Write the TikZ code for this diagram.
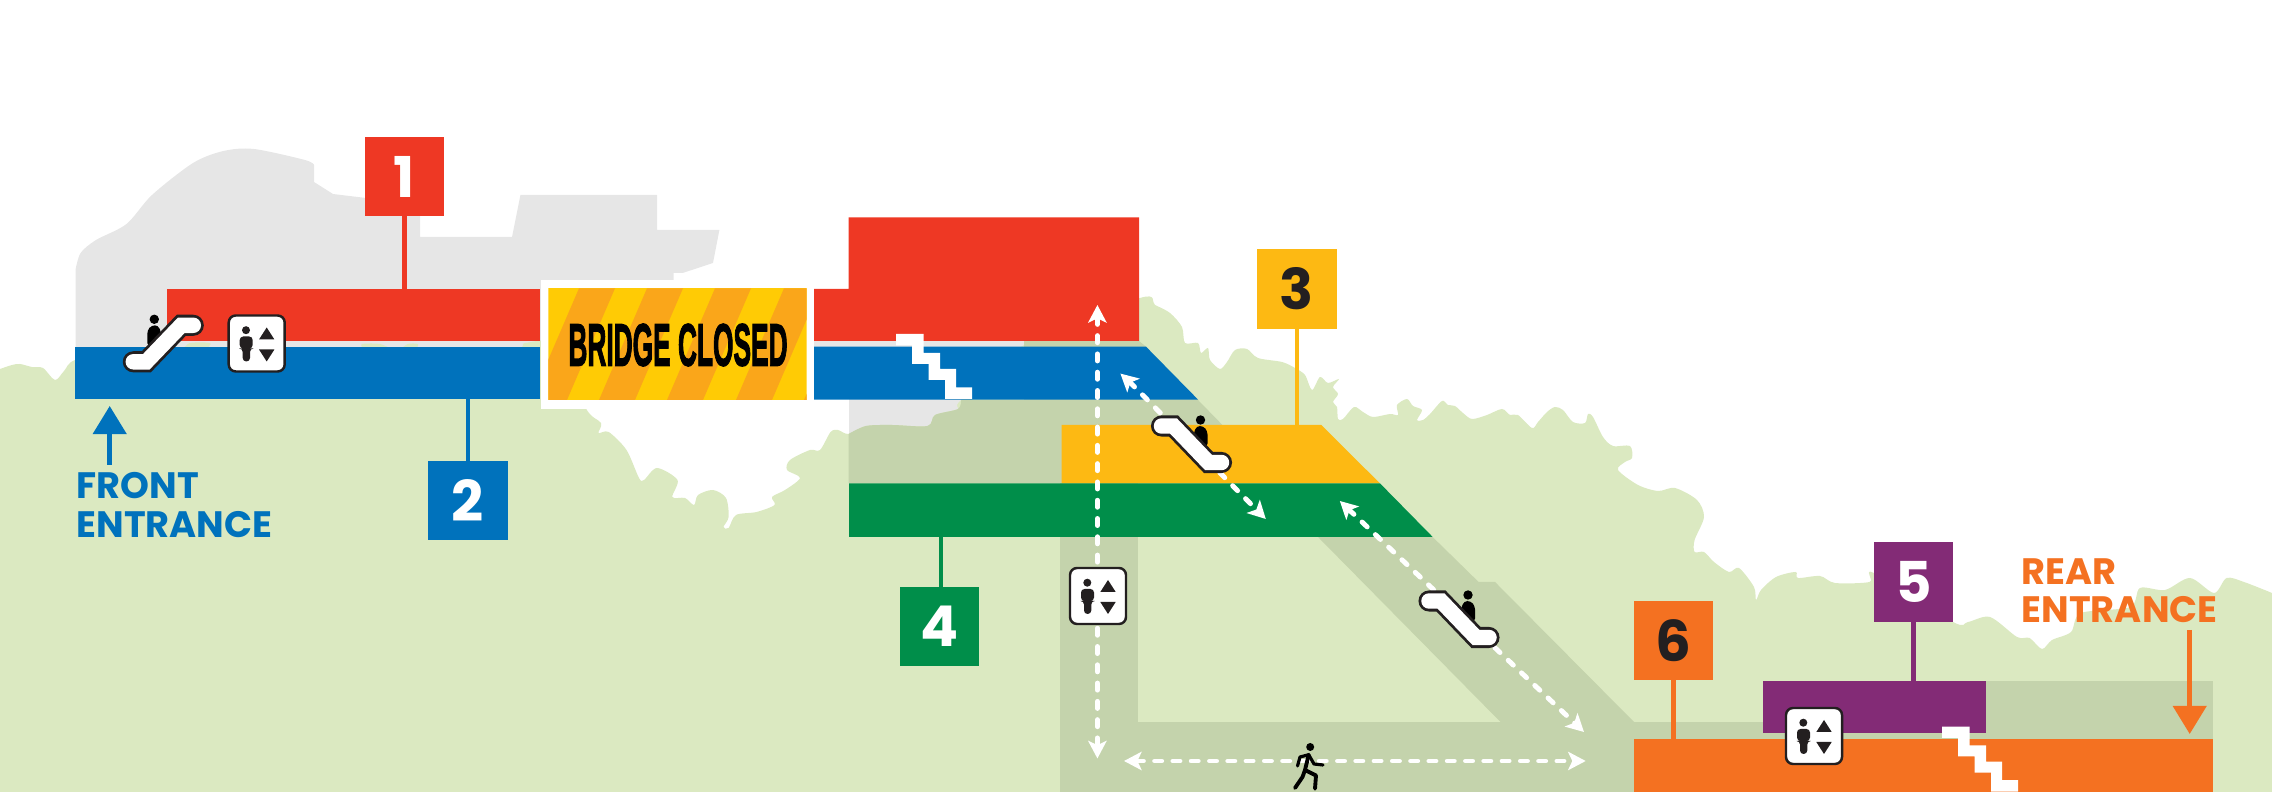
\documentclass[tikz,border=0pt]{standalone}
\usepackage{fontspec}
\usepackage{xcolor}
\setmainfont{Poppins}
\newfontfamily\closedfont[BoldFeatures={FakeBold=2.5}]{Liberation Sans}
\usetikzlibrary{arrows.meta, positioning}
\definecolor{mapgreen}{RGB}{219,233,193}
\definecolor{pathgreen}{RGB}{196,211,172}
\definecolor{mapgrey}{RGB}{230,230,230}
\definecolor{levelred}{RGB}{238,56,36}
\definecolor{levelblue}{RGB}{0,114,188}
\definecolor{levelyellow}{RGB}{253,185,19}
\definecolor{levelgreen}{RGB}{0,142,74}
\definecolor{levelpurple}{RGB}{131,43,118}
\definecolor{levelorange}{RGB}{244,113,33}
\definecolor{signyellow}{RGB}{255,203,5}
\definecolor{signorange}{RGB}{250,166,26}
\definecolor{iconblack}{RGB}{35,31,32}
\tikzset{
    barbox/.style={rectangle, inner sep=0pt, outer sep=0pt},
    numbox/.style={rectangle, minimum size=0.79cm, inner sep=0pt, outer sep=0pt, font=\fontsize{16}{16}\selectfont\bfseries},
    entrytext/.style={inner sep=0pt, align=left, font=\fontsize{10.45}{10.9}\selectfont\bfseries},
    pointer/.style={line width=1.3pt},
    walkway/.style={white, line width=1.4pt, line cap=round, dash pattern=on 2pt off 3.2pt, {Stealth[length=5pt,width=5.2pt,inset=1.2pt]}-{Stealth[length=5pt,width=5.2pt,inset=1.2pt]}},
    lifticon/.pic={
        \draw[iconblack, fill=white, line width=0.7pt, rounded corners=2pt] (-28,-28) rectangle (28,28);
        \fill[iconblack] (-10.7,-13.3) circle (4);
        \fill[iconblack, rounded corners=1pt] (-17,5) -- (-17,-7) -- (-4,-7) -- (-4,5) -- (-6.7,5) -- (-6.7,18) -- (-14,18) -- (-14,5) -- cycle;
        \fill[iconblack] (10,-16) -- (17.7,-4) -- (2.3,-4) -- cycle;
        \fill[iconblack] (10,18) -- (17.7,6) -- (2.3,6) -- cycle;
    },
    escicon/.pic={
        \fill[black] (-9,-24) circle (4.7);
        \fill[black, rounded corners=1pt] (-16,3) -- (-16,-13) -- (-11.7,-18) -- (-5,-18) -- (-2,-10) -- (-2,3) -- cycle;
        \draw[iconblack, line width=6pt, line cap=round, miter limit=3] (-30,18.5) -- (-17,18.5) -- (18,-18) -- (30,-18);
        \draw[white, line width=4.4pt, line cap=round, miter limit=3] (-30,18.5) -- (-17,18.5) -- (18,-18) -- (30,-18);
    },
    stairicon/.pic={
        \fill[white] (0,0) -- (27.5,0) -- (27.5,18.8) -- (44,18.8) -- (44,35) -- (60,35) -- (60,53.5) -- (76,53.5) -- (76,65) -- (49,65) -- (49,46) -- (32.6,46) -- (32.6,29.8) -- (16,29.8) -- (16,11.3) -- (0,11.3) -- cycle;
    }
}

\begin{document}
\begin{tikzpicture}[x=0.01cm, y=-0.01cm]
    \useasboundingbox (0,0) rectangle (2272,792);
    \clip (0,0) rectangle (2272,792);

    \fill[mapgrey] (75.5,400) -- (75.5,270) -- plot[smooth, tension=0.5] coordinates {(75.5,270) (80.6,253) (96,240) (126.5,224) (152,195) (193,163) (223.5,151) (254,149) (305,160) (314,165)} -- (314,182) -- (333,194) -- (366,198) -- (420,198) -- (420,237) -- (512,237) -- (520.4,195) -- (657,195) -- (657,230) -- (719.4,230) -- (713,263) -- (682.7,273) -- (673.5,273) -- (673.5,400) -- cycle;
    \fill[mapgrey] (814,341) rectangle (1030,347);
    \fill[mapgrey] (848.5,341) rectangle (1030,434);

    \fill[mapgreen] plot[smooth, tension=0.5] coordinates {(0,369) (12,365) (20,364) (32,367) (43,368) (55,380) (64,371) (75,360) (120,350) (178,349) (190,343) (210,343) (220,349) (350,349) (362,344) (380,344) (392,349) (400,349) (408,344) (418,344) (425,349) (515,349) (525,343) (560,345) (585.7,408) (601,423) (598.5,433) (608.7,432) (626.5,450) (639,478) (644,480) (657,468) (677.5,480) (672.4,497) (685,498) (694,505) (698,495) (713,490) (726,498) (728.6,517) (723.5,527) (728.6,528) (736,515) (756.6,512) (774.5,505) (772,497) (785,490) (800,478) (787,470) (790,460) (810,450) (820,450) (830.6,432) (838,430) (848.5,434) (866,426) (892,425) (927.5,426) (935,415) (958,409) (961,400) (1024,345) (1140,298) (1155,305) (1170,313) (1182,327) (1185,343) (1198,343) (1201,353) (1208,348) (1210,360) (1220,369) (1227,362) (1235,350) (1247,349) (1258,358) (1282,362) (1295,368) (1305,375) (1312,390) (1320,377) (1328,383) (1339,379) (1333,387) (1338,394) (1333,402) (1337,407) (1338,419) (1343,419) (1354,407) (1363,412) (1373,417) (1390,414) (1398,415) (1397,405) (1407,399) (1413,406) (1422,410) (1417,420) (1423,420) (1430,414) (1442,401) (1448,405) (1455,406) (1463,413) (1472,419) (1487,415) (1502,409) (1510,415) (1518,415) (1532,428) (1538,422) (1547,412) (1555,407) (1563,410) (1573,422) (1585,423) (1588,414) (1593,417) (1603,437) (1613,446) (1630,446) (1632,458) (1625,462) (1618,470) (1638,485) (1658,491) (1675,488) (1697,500) (1704,517) (1694.6,540) (1694.6,552) (1704,552) (1714,562) (1729,572) (1739,568) (1754,587) (1756,600) (1761,590) (1776,577) (1795.6,572) (1798,578) (1820,576) (1835,583) (1869.5,582) (1874,573) (1953,622) (1968,622) (1990,617) (2017,637) (2029.6,638) (2042,649) (2052,640) (2071,632) (2081,613) (2130,607) (2140,588) (2165,590) (2190,578) (2214,593) (2226.6,578) (2244,582) (2272,593)} -- (2272,792) -- (0,792) -- cycle;

    \fill[pathgreen] (848.5,483) -- (848.5,434) -- plot[smooth, tension=0.5] coordinates {(848.5,434) (866,426) (892,425) (927.5,426) (935,415) (958,409) (961,400)} -- (1024,400) -- (1024,341) -- (1139,341) -- (1146,346.7) -- (1222.4,425) -- (1222.4,483) -- cycle;
    \fill[pathgreen] (1060,480) rectangle (1138,792);
    \fill[pathgreen] (1060,722) rectangle (1634,792);
    \fill[pathgreen] (1318,537) -- (1432.6,537) -- (1478.6,582) -- (1495,582) -- (1634,722) -- (1634,792) -- (1500.5,792) -- (1500.5,722) -- cycle;
    \fill[pathgreen] (1634,722) rectangle (2213,740);
    \fill[pathgreen] (1985,681) rectangle (2213,740);

    \node[barbox, fill=levelred, minimum width=3.73cm, minimum height=0.517cm] (redbar) at (353.5,315) {};
    \node[barbox, fill=levelblue, minimum width=4.645cm, minimum height=0.523cm] (bluebar) at (307.75,373) {};
    \fill[levelred] (814,289) -- (848.5,289) -- (848.5,217.4) -- (1139,217.4) -- (1139,341) -- (814,341) -- cycle;
    \fill[levelblue] (814,346.7) -- (1146,346.7) -- (1198,399.6) -- (814,399.6) -- cycle;
    \fill[levelyellow] (1061.7,425) -- (1321.4,425) -- (1380,483.5) -- (1061.7,483.5) -- cycle;
    \fill[levelgreen] (849,483.4) -- (1380,483.4) -- (1432.7,537) -- (849,537) -- cycle;
    \node[barbox, fill=levelpurple, minimum width=2.231cm, minimum height=0.52cm] (purplebar) at (1874.2,707) {};
    \node[barbox, fill=levelorange, minimum width=5.79cm, minimum height=0.53cm] (orangebar) at (1923.5,766) {};
    \coordinate (yellowtop) at (1297,425);
    \coordinate (greenbottom) at (941,537);

    \fill[white] (540.7,280) rectangle (814,409);
    \begin{scope}
        \clip (548.4,288.3) rectangle (806.7,400);
        \fill[signyellow] (548.4,288.3) rectangle (806.7,400);
        \foreach \sx in {579,647,715,784,852} {
            \fill[signorange] (\sx,288.3) -- (\sx+36,288.3) -- (\sx-12,400) -- (\sx-48,400) -- cycle;
        }
    \end{scope}
    \node[inner sep=0pt] (closed) at (678,345) {\scalebox{0.44}[1]{\closedfont\bfseries\fontsize{17}{17}\selectfont BRIDGE CLOSED}};

    \node[numbox, fill=levelred, text=white] (lab1) at (404.5,176.5) {1};
    \node[numbox, fill=levelblue, text=white] (lab2) at (468,500.7) {2};
    \node[numbox, fill=levelyellow, text=iconblack] (lab3) at (1297,289) {3};
    \node[numbox, fill=levelgreen, text=white] (lab4) at (939.5,626.5) {4};
    \node[numbox, fill=levelpurple, text=white] (lab5) at (1913.5,582) {5};
    \node[numbox, fill=levelorange, text=iconblack] (lab6) at (1673.5,640.5) {6};

    \draw[pointer, levelred] (lab1.south) -- (lab1.south |- redbar.north);
    \draw[pointer, levelblue] (lab2.north) -- (lab2.north |- bluebar.south);
    \draw[pointer, levelyellow] (lab3.south) -- (yellowtop);
    \draw[pointer, levelgreen] (lab4.north -| greenbottom) -- (greenbottom);
    \draw[pointer, levelpurple] (lab5.south) -- (lab5.south |- purplebar.north);
    \draw[pointer, levelorange] (lab6.south) -- (lab6.south |- orangebar.north);

    \node[entrytext, text=levelblue, anchor=north west] (fronttext) at (76,472) {FRONT\\ENTRANCE};
    \node[entrytext, text=levelorange, anchor=north west] (reartext) at (2021,558) {REAR\\ENTRANCE};
    \coordinate (fronttip) at (109.7,406);
    \coordinate (frontstart) at (109.7,465);
    \coordinate (rearstart) at (2189.7,630);
    \coordinate (reartip) at (2189.7,734);
    \draw[pointer, levelblue, -{Triangle[length=8pt,width=9.4pt]}] (frontstart) -- (fronttip);
    \draw[pointer, levelorange, -{Triangle[length=8pt,width=9.4pt]}] (rearstart) -- (reartip);

    \coordinate (lifttop) at (1097.4,305);
    \coordinate (liftbottom) at (1097.4,758.5);
    \coordinate (walkleft) at (1124,761);
    \coordinate (walkright) at (1585.7,761);
    \coordinate (upperstart) at (1120.4,373.6);
    \coordinate (upperend) at (1265.8,519);
    \coordinate (lowerstart) at (1339.8,501);
    \coordinate (lowerend) at (1584,732);
    \draw[walkway] (lifttop) -- (liftbottom);
    \draw[walkway] (walkleft) -- (walkright);
    \draw[walkway] (upperstart) -- (upperend);
    \draw[walkway] (lowerstart) -- (lowerend);

    \pic at (163.3,343.3) {escicon};
    \pic[xscale=-1] at (1191.5,444) {escicon};
    \pic[xscale=-1] at (1459,619) {escicon};
    \pic at (256.7,343.5) {lifticon};
    \pic at (1098,596) {lifticon};
    \pic at (1814,736) {lifticon};
    \pic at (896,334) {stairicon};
    \pic at (1942,726.7) {stairicon};

    \fill[black] (1310.2,747) circle (4);
    \draw[black, line width=1.1pt, line cap=round, line join=round] (1308.7,754.7) -- (1305,770) -- (1316,775.5) -- (1315,788.7);
    \draw[black, line width=1.1pt, line cap=round, line join=round] (1305,770) -- (1302.5,777) -- (1295,788);
    \draw[black, line width=0.9pt, line cap=round, line join=round] (1297.5,766) -- (1300,757) -- (1308.7,754.7) -- (1314,764) -- (1323,765);
\end{tikzpicture}
\end{document}
